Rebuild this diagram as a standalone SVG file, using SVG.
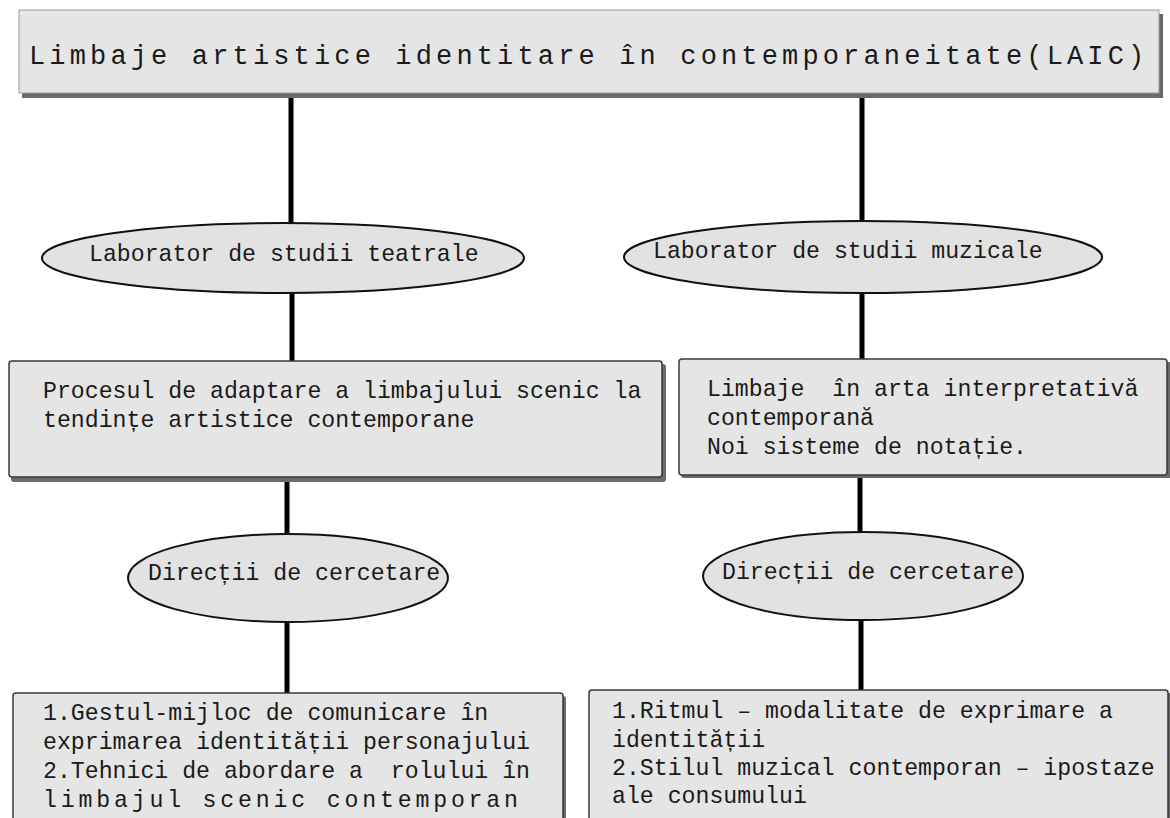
<svg xmlns="http://www.w3.org/2000/svg" width="1170" height="818" viewBox="0 0 1170 818">
<style>
.shadow{fill:#6a6a6a;}
.box{fill:#e5e5e5;stroke:#3a3a3a;stroke-width:1.5;}
.tbox{fill:#e5e5e5;stroke:#9a9a9a;stroke-width:1;}
.ell{fill:#e2e2e2;stroke:#111;stroke-width:2;}
.t{font-family:"Liberation Mono","Courier New",monospace;font-size:23.2px;fill:#1a1a1a;}
.title{font-family:"Liberation Mono","Courier New",monospace;font-size:27px;fill:#1a1a1a;letter-spacing:4.15px;}
.conn{stroke:#000;stroke-width:5;fill:none;}
</style>
<rect width="1170" height="818" fill="#ffffff"/>
<g id="connectors">
<line class="conn" x1="291" y1="96" x2="291" y2="224"/>
<line class="conn" x1="862" y1="96" x2="862" y2="224"/>
<line class="conn" x1="292" y1="292" x2="292" y2="361"/>
<line class="conn" x1="862" y1="292" x2="862" y2="359"/>
<line class="conn" x1="287" y1="478" x2="287" y2="536"/>
<line class="conn" x1="860" y1="476" x2="860" y2="536"/>
<line class="conn" x1="287" y1="621" x2="287" y2="693"/>
<line class="conn" x1="861" y1="619" x2="861" y2="690"/>
</g>
<g id="title">
<rect class="shadow" x="22" y="14" width="1141" height="84"/>
<rect class="tbox" x="19" y="10" width="1140" height="83"/>
<text class="title" x="29" y="64">Limbaje artistice identitare în contemporaneitate(LAIC)</text>
</g>
<g id="lab-teatru">
<ellipse class="ell" cx="283" cy="258" rx="241" ry="35"/>
<text class="t" x="89" y="261">Laborator de studii teatrale</text>
</g>
<g id="lab-muzica">
<ellipse class="ell" cx="863" cy="257" rx="239" ry="36"/>
<text class="t" x="653" y="258">Laborator de studii muzicale</text>
</g>
<g id="proces-teatru">
<rect class="shadow" x="11" y="364" width="655" height="118" rx="3"/>
<rect class="box" x="9" y="361" width="653" height="116" rx="3"/>
<text class="t" x="43" y="398">Procesul de adaptare a limbajului scenic la</text>
<text class="t" x="43" y="427">tendințe artistice contemporane</text>
</g>
<g id="limbaje-muzica">
<rect class="shadow" x="681" y="362" width="492" height="116" rx="3"/>
<rect class="box" x="679" y="359" width="488" height="116" rx="3"/>
<text class="t" x="707" y="396" xml:space="preserve">Limbaje  în arta interpretativă</text>
<text class="t" x="707" y="425">contemporană</text>
<text class="t" x="707" y="454">Noi sisteme de notație.</text>
</g>
<g id="directii-teatru">
<ellipse class="ell" cx="288" cy="578" rx="160" ry="44"/>
<text class="t" x="148" y="580">Direcții de cercetare</text>
</g>
<g id="directii-muzica">
<ellipse class="ell" cx="863" cy="576" rx="160" ry="44"/>
<text class="t" x="722" y="579">Direcții de cercetare</text>
</g>
<g id="cercetare-teatru">
<rect class="shadow" x="15" y="696" width="551" height="140" rx="3"/>
<rect class="box" x="13" y="693" width="550" height="140" rx="3"/>
<text class="t" x="43" y="720">1.Gestul-mijloc de comunicare în</text>
<text class="t" x="43" y="749">exprimarea identității personajului</text>
<text class="t" x="43" y="778" xml:space="preserve">2.Tehnici de abordare a  rolului în</text>
<text class="t" x="43" y="807" textLength="475" lengthAdjust="spacing">limbajul scenic contemporan</text>
</g>
<g id="cercetare-muzica">
<rect class="shadow" x="591" y="693" width="582" height="140" rx="3"/>
<rect class="box" x="589" y="690" width="579" height="140" rx="3"/>
<text class="t" x="612" y="718">1.Ritmul – modalitate de exprimare a</text>
<text class="t" x="612" y="747">identității</text>
<text class="t" x="612" y="775">2.Stilul muzical contemporan – ipostaze</text>
<text class="t" x="612" y="803">ale consumului</text>
</g>
</svg>
